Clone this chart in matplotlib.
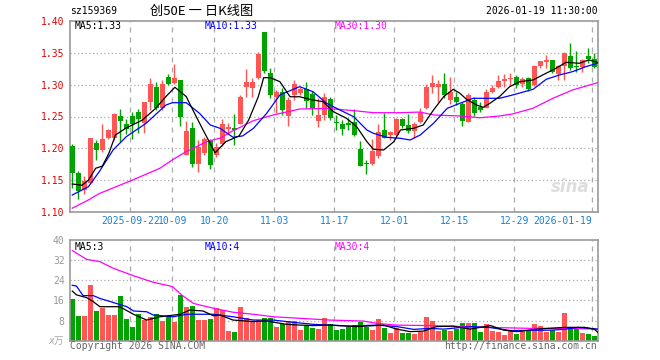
import matplotlib
matplotlib.use("Agg")
import matplotlib.pyplot as plt
import numpy as np

plt.rcParams['font.family'] = ['DejaVu Sans Mono']

# daily candles, 2025-09-08 .. 2026-01-19 (88 trading days)
opens = [1.204, 1.162, 1.134, 1.146, 1.209, 1.197, 1.217, 1.217, 1.250, 1.239,
         1.250, 1.257, 1.240, 1.2725, 1.297, 1.2635, 1.3115, 1.302, 1.308, 1.190,
         1.232, 1.176, 1.193, 1.213, 1.190, 1.207, 1.231, 1.232, 1.239, 1.297,
         1.294, 1.310, 1.382, 1.318, 1.281, 1.288, 1.251, 1.283, 1.2865, 1.293,
         1.285, 1.243, 1.2525, 1.277, 1.2405, 1.239, 1.2395, 1.242, 1.199, 1.176,
         1.1755, 1.1875, 1.2285, 1.2215, 1.2215, 1.2455, 1.2365, 1.2265, 1.242, 1.263,
         1.297, 1.297, 1.3005, 1.276, 1.281, 1.2695, 1.242, 1.276, 1.2655, 1.264,
         1.288, 1.296, 1.305, 1.309, 1.3125, 1.3005, 1.311, 1.2995, 1.329, 1.336,
         1.338, 1.316, 1.329, 1.3455, 1.329, 1.328, 1.3455, 1.341]
highs = [1.207, 1.164, 1.156, 1.217, 1.213, 1.238, 1.231, 1.255, 1.261, 1.246,
         1.257, 1.261, 1.272, 1.310, 1.304, 1.307, 1.316, 1.332, 1.308, 1.243,
         1.242, 1.2125, 1.218, 1.215, 1.208, 1.2465, 1.240, 1.254, 1.283, 1.324,
         1.310, 1.352, 1.382, 1.3255, 1.292, 1.294, 1.280, 1.307, 1.297, 1.304,
         1.290, 1.279, 1.2865, 1.280, 1.2525, 1.245, 1.2475, 1.2615, 1.212, 1.182,
         1.215, 1.238, 1.255, 1.2275, 1.2475, 1.2475, 1.2535, 1.242, 1.263, 1.3005,
         1.315, 1.307, 1.318, 1.3125, 1.289, 1.272, 1.2865, 1.280, 1.2735, 1.293,
         1.300, 1.315, 1.316, 1.318, 1.315, 1.3125, 1.3125, 1.331, 1.337, 1.3465,
         1.3385, 1.331, 1.3515, 1.3655, 1.3535, 1.341, 1.358, 1.350]
lows = [1.138, 1.121, 1.128, 1.145, 1.182, 1.195, 1.215, 1.213, 1.210, 1.2225,
        1.2145, 1.2245, 1.2245, 1.260, 1.260, 1.260, 1.299, 1.3005, 1.2355, 1.190,
        1.171, 1.1625, 1.190, 1.168, 1.187, 1.2035, 1.2235, 1.2055, 1.238, 1.281,
        1.281, 1.309, 1.318, 1.2785, 1.255, 1.2525, 1.2345, 1.276, 1.284, 1.263,
        1.2525, 1.233, 1.245, 1.245, 1.229, 1.2215, 1.229, 1.219, 1.173, 1.159,
        1.1745, 1.185, 1.216, 1.2135, 1.219, 1.232, 1.224, 1.217, 1.240, 1.262,
        1.2865, 1.2735, 1.2785, 1.2695, 1.268, 1.2355, 1.241, 1.2515, 1.2565, 1.263,
        1.2865, 1.2945, 1.297, 1.300, 1.2945, 1.297, 1.290, 1.298, 1.3265, 1.3265,
        1.318, 1.3075, 1.3075, 1.323, 1.3205, 1.3205, 1.3335, 1.3265]
closes = [1.162, 1.133, 1.149, 1.216, 1.197, 1.215, 1.229, 1.254, 1.243, 1.231,
          1.2375, 1.246, 1.272, 1.3005, 1.2635, 1.3005, 1.3005, 1.310, 1.2495, 1.227,
          1.176, 1.2025, 1.2145, 1.1735, 1.2025, 1.239, 1.233, 1.229, 1.281, 1.304,
          1.304, 1.348, 1.3215, 1.283, 1.288, 1.2605, 1.276, 1.3005, 1.293, 1.2745,
          1.264, 1.2525, 1.281, 1.2475, 1.2400, 1.2308, 1.237, 1.2215, 1.173, 1.175,
          1.1955, 1.2255, 1.217, 1.2255, 1.2455, 1.2355, 1.228, 1.239, 1.2565, 1.296,
          1.302, 1.3005, 1.283, 1.289, 1.2735, 1.2435, 1.284, 1.2555, 1.2605, 1.288,
          1.2955, 1.305, 1.309, 1.311, 1.2995, 1.309, 1.2935, 1.329, 1.337, 1.338,
          1.3205, 1.329, 1.349, 1.3265, 1.328, 1.3385, 1.341, 1.328]
volumes = [16.6, 9.8, 9.8, 22.1, 11.8, 13.1, 10.2, 10.2, 17.8, 8.6,
           5.4, 10.5, 8.2, 9.3, 10.5, 7.8, 9.5, 7.4, 18.2, 13.5,
           13.8, 8.2, 8.2, 8.6, 13.0, 12.3, 3.8, 3.4, 13.5, 9.1,
           7.6, 8.2, 8.9, 8.9, 5.6, 6.6, 7.8, 7.8, 4.2, 6.0,
           4.9, 4.6, 8.9, 6.5, 4.2, 4.6, 5.6, 6.2, 7.6, 5.6,
           4.2, 8.6, 5.0, 3.0, 4.9, 3.0, 3.0, 2.6, 3.3, 9.4,
           7.9, 3.8, 4.4, 3.8, 4.5, 7.0, 7.0, 7.0, 3.4, 6.5,
           3.8, 3.4, 2.3, 4.2, 2.6, 3.8, 3.8, 6.6, 5.8, 3.4,
           4.2, 3.4, 11.0, 4.8, 4.8, 3.0, 2.6, 1.9]

# moving average lines: (candle position, value)
ma5_x = [0, 1.6, 2.7, 3.9, 5.0, 6.1, 7.2, 8.9, 11.7, 13.9, 15.6, 17.1, 19.0, 20.1, 21.8, 23.8,
         25.6, 27.8, 29.4, 31.0, 31.9, 33.0, 34.6, 36.3, 37.9, 40.1, 41.8, 43.5, 45.7, 47.4,
         49.1, 50.2, 51.9, 53.6, 54.7, 56.9, 58.5, 60.2, 61.9, 63.5, 64.6, 65.7, 67.4, 68.5,
         69.6, 71.2, 72.9, 74.6, 76.8, 78.4, 80.6, 82.3, 84.5, 86.1, 87.5]
ma5_y = [1.144, 1.142, 1.150, 1.1687, 1.172, 1.1922, 1.221, 1.2315, 1.2445, 1.2629, 1.2812,
         1.2959, 1.2812, 1.2602, 1.2288, 1.193, 1.2105, 1.2195, 1.2445, 1.281, 1.311, 1.311,
         1.3047, 1.281, 1.281, 1.276, 1.2733, 1.2576, 1.2472, 1.234, 1.2105, 1.1985, 1.1974,
         1.2105, 1.2288, 1.2315, 1.2367, 1.2602, 1.2812, 1.2927, 1.2865, 1.277, 1.268, 1.2645,
         1.2707, 1.2812, 1.2969, 1.3047, 1.3074, 1.3152, 1.3257, 1.3351, 1.3336, 1.3388, 1.3351]
ma10_x = [0, 2.7, 4.5, 6.8, 9.0, 12.3, 15.6, 16.7, 19.0, 21.2, 23.0, 24.6, 26.8, 28.4,
          30.2, 32.4, 34.6, 37.9, 40.1, 42.4, 44.6, 46.9, 49.1, 50.2, 52.4, 54.7, 56.3,
          58.0, 60.2, 62.5, 64.6, 66.8, 69.0, 71.2, 73.4, 76.8, 79.0, 81.2, 83.4, 85.6, 87.5]
ma10_y = [1.1267, 1.1398, 1.1634, 1.1974, 1.2183, 1.2393, 1.268, 1.2717, 1.2717, 1.255,
          1.2367, 1.2315, 1.2173, 1.2195, 1.2315, 1.255, 1.2838, 1.2969, 1.289, 1.2707,
          1.2602, 1.2497, 1.2288, 1.2236, 1.2173, 1.2157, 1.2131, 1.221, 1.2393, 1.2629,
          1.2707, 1.2786, 1.2786, 1.2786, 1.2838, 1.2927, 1.3085, 1.3152, 1.3205, 1.3283, 1.3336]
ma30_x = [0, 2.7, 4.5, 10.0, 14.6, 16.7, 19.0, 22.4, 24.6, 26.8, 30.2, 33.5, 37.9, 42.4,
          46.9, 50.2, 54.7, 58.0, 60.2, 64.6, 67.9, 71.2, 73.4, 76.8, 80.1, 83.4, 87.5]
ma30_y = [1.106, 1.119, 1.129, 1.150, 1.1687, 1.182, 1.195, 1.2105, 1.216, 1.2277, 1.2435,
          1.2524, 1.2618, 1.2628, 1.2592, 1.256, 1.256, 1.257, 1.2524, 1.2508, 1.248, 1.2508,
          1.254, 1.263, 1.2786, 1.2917, 1.303]

vma5_x = [0, 0.7, 2.4, 3.5, 4.6, 7.9, 10.2, 12.4, 14.6, 18.0, 19.6, 21.8, 23.5, 24.6, 26.8,
          30.2, 32.4, 35.7, 37.9, 40.2, 42.9, 47.4, 51.9, 54.1, 56.3, 58.5, 60.7, 63.5, 66.3,
          69.7, 71.9, 74.1, 77.5, 82.0, 85.4, 87.0, 87.6]
vma5_y = [19.7, 18.2, 17.1, 15.5, 13.5, 13.5, 10.5, 8.2, 9.5, 10.5, 12.2, 11.8, 9.9, 10.2,
          8.2, 7.6, 7.8, 6.5, 6.2, 6.0, 6.2, 5.6, 6.2, 4.6, 3.6, 3.8, 5.6, 5.8, 4.6, 6.0,
          4.2, 3.6, 4.6, 5.3, 5.3, 4.6, 3.3]
vma10_x = [0, 0.7, 1.8, 3.5, 4.6, 6.8, 9.1, 10.2, 12.4, 13.5, 16.8, 19.1, 23.5, 26.8, 30.2,
           33.5, 36.8, 40.2, 42.9, 46.3, 50.7, 54.1, 56.9, 59.6, 61.9, 66.3, 69.7, 73.1,
           76.4, 79.8, 82.0, 84.3, 87.5]
vma10_y = [22.0, 21.7, 17.9, 17.9, 16.8, 15.2, 13.5, 11.8, 11.5, 10.2, 9.5, 10.5, 10.5, 9.5,
           8.2, 8.2, 7.3, 6.5, 6.2, 5.8, 6.2, 5.6, 4.5, 4.9, 4.6, 5.6, 5.2, 4.0, 4.1, 4.2,
           4.5, 5.3, 4.6]
vma30_x = [0, 2.4, 4.6, 6.8, 10.2, 13.5, 16.7, 18.2, 20.2, 23.5, 26.8, 30.2, 33.5, 37.9,
           42.9, 48.5, 50.7, 54.1, 59.6, 65.2, 70.8, 76.4, 81.9, 87.5]
vma30_y = [35.8, 32.3, 31.4, 28.8, 25.8, 23.2, 21.5, 18.2, 14.8, 12.9, 11.3, 10.5, 9.5, 8.9,
           8.2, 7.8, 6.9, 6.2, 6.0, 5.6, 5.2, 4.9, 4.9, 4.6]

date_idx = [10, 17, 24, 34, 44, 54, 64, 74, 87]
date_labels = ['2025-09-22', '10-09', '10-20', '11-03', '11-17', '12-01', '12-15', '12-29', '2026-01-19']

RED = '#ff5555'
GREEN = '#00a300'
GRID = '#aaaaaa'
FS = 7.0

n = len(closes)
x = np.arange(n)
colors = [RED if c >= o else GREEN for o, c in zip(opens, closes)]
grid_x = [i - 0.33 for i in date_idx]

fig = plt.figure(figsize=(6.6, 3.6), dpi=100)
ax = fig.add_axes([70.3 / 660, 1 - 212 / 360, 527.4 / 660, 191 / 360])
axv = fig.add_axes([70.3 / 660, 1 - 340.7 / 360, 527.4 / 660, 100.7 / 360])

for a in (ax, axv):
    a.set_xlim(-0.33, 87.57)
    for s in a.spines.values():
        s.set_color('#999999')
        s.set_linewidth(1.2)
    a.tick_params(length=0, pad=4)
    for gx in grid_x:
        a.axvline(gx, color=GRID, lw=0.9, ls=(0, (4, 4)), zorder=0)

# price panel
ax.set_ylim(1.10, 1.40)
for gy in [1.15, 1.20, 1.25, 1.30, 1.35]:
    ax.axhline(gy, color=GRID, lw=0.9, ls=(0, (1, 2)), zorder=0)
ax.vlines(x, lows, highs, colors=colors, lw=1, zorder=2)
body_bot = np.minimum(opens, closes)
body_h = np.maximum(np.abs(np.array(closes) - np.array(opens)), 0.0012)
ax.bar(x, body_h, bottom=body_bot, width=0.8, color=colors, zorder=3)
ax.plot(ma30_x, ma30_y, color='#ff00ff', lw=0.9, zorder=4)
ax.plot(ma10_x, ma10_y, color='#0000ff', lw=0.9, zorder=4)
ax.plot(ma5_x, ma5_y, color='#000000', lw=0.9, zorder=5)

yt = [1.10, 1.15, 1.20, 1.25, 1.30, 1.35, 1.40]
ax.set_yticks(yt)
ax.set_yticklabels(['%.2f' % v for v in yt], color='#e00000', fontsize=FS)
ax.set_xticks(grid_x)
ax.set_xticklabels(date_labels, color='#1a80d0', fontsize=FS)
ax.get_xticklabels()[-1].set_ha('right')
ax.tick_params(axis='x', pad=3)

ax.text(0.985, 0.085, 'sina', transform=ax.transAxes, fontsize=12, color='#dddddd',
        fontstyle='italic', fontweight='bold', family='DejaVu Sans', ha='right', va='bottom')

fig.text(75 / 660, 1 - 26.3 / 360, 'MA5:1.33', fontsize=FS, color='black', va='center')
fig.text(205 / 660, 1 - 26.3 / 360, 'MA10:1.33', fontsize=FS, color='#0000ff', va='center')
fig.text(335 / 660, 1 - 26.3 / 360, 'MA30:1.30', fontsize=FS, color='#ff00ff', va='center')

# volume panel
axv.set_ylim(0, 40)
for gy in [8, 16, 24, 32]:
    axv.axhline(gy, color=GRID, lw=0.9, ls=(0, (1, 2)), zorder=0)
axv.bar(x, volumes, width=0.8, color=colors, zorder=2)
axv.plot(vma30_x, vma30_y, color='#ff00ff', lw=0.9, zorder=4)
axv.plot(vma10_x, vma10_y, color='#0000ff', lw=0.9, zorder=4)
axv.plot(vma5_x, vma5_y, color='#000000', lw=0.9, zorder=5)
axv.set_yticks([8, 16, 24, 32, 40])
axv.set_yticklabels(['8', '16', '24', '32', '40'], color='#999999', fontsize=FS)
axv.set_xticks(grid_x)
axv.set_xticklabels([])

fig.text(75 / 660, 1 - 246.7 / 360, 'MA5:3', fontsize=FS, color='black', va='center')
fig.text(205 / 660, 1 - 246.7 / 360, 'MA10:4', fontsize=FS, color='#0000ff', va='center')
fig.text(335 / 660, 1 - 246.7 / 360, 'MA30:4', fontsize=FS, color='#ff00ff', va='center')
fig.text(64 / 660, 1 - 341 / 360, 'x万', fontsize=7, color='#aaaaaa', ha='right', va='center',
         family=['DejaVu Sans Mono', 'Noto Sans CJK SC'], fontstyle='italic')

# header and footer
fig.text(69.6 / 660, 1 - 11 / 360, 'sz159369', fontsize=FS, color='black', va='center')
fig.text(150 / 660, 1 - 11 / 360, '创50E 一 日K线图', fontsize=9.5, color='black', va='center',
         family=['Noto Sans CJK SC', 'DejaVu Sans'])
fig.text(598 / 660, 1 - 11 / 360, '2026-01-19 11:30:00', fontsize=FS, color='black',
         ha='right', va='center')
fig.text(70 / 660, 1 - 346 / 360, 'Copyright 2026 SINA.COM', fontsize=FS, color='#666666',
         va='center')
fig.text(597 / 660, 1 - 346 / 360, 'http://finance.sina.com.cn', fontsize=FS, color='#666666',
         ha='right', va='center')

fig.savefig('out.png', dpi=100)
